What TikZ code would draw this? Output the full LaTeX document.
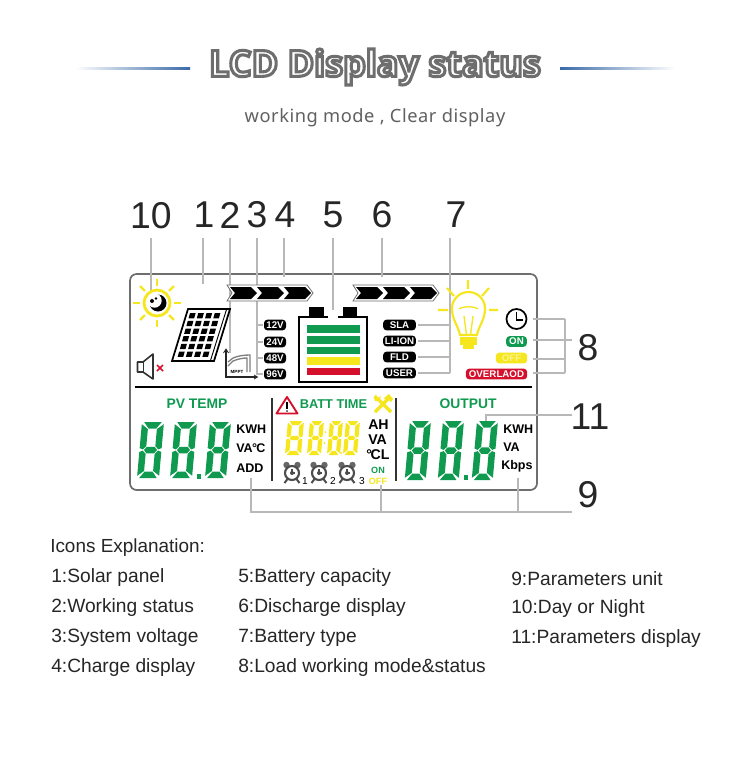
\documentclass[tikz,border=0pt]{standalone}
\usepackage{fontspec}
\setmainfont{Liberation Sans}
\newfontfamily\titlefont{Open Sans}
\newfontfamily\subfont{Noto Sans}[LetterSpace=3]
\usetikzlibrary{calc}
\definecolor{lcdgreen}{HTML}{109A50}
\definecolor{lcdyellow}{HTML}{F6E61E}
\definecolor{lcdred}{HTML}{D5102C}
\definecolor{leadgray}{HTML}{B8B8B8}
\definecolor{framegray}{HTML}{6E6E6E}
\definecolor{titleblue}{HTML}{3A6AA8}
\newcommand{\segdig}[6]{% x,y(top-left),w,h,t,colour
 \begin{scope}[shift={(#1,#2)},xslant=0.09,fill=#6,draw=none]
  \pgfmathsetmacro\dw{#3}\pgfmathsetmacro\dh{#4}\pgfmathsetmacro\dt{#5}
  \pgfmathsetmacro\dm{\dh/2}\pgfmathsetmacro\dg{.6}\pgfmathsetmacro\dc{\dt*.25+\dg}
  \fill (\dc,0)--(\dw-\dc,0)--(\dw-\dg-\dt,\dt)--(\dg+\dt,\dt)--cycle;
  \fill (\dc,\dh)--(\dw-\dc,\dh)--(\dw-\dg-\dt,\dh-\dt)--(\dg+\dt,\dh-\dt)--cycle;
  \fill (\dg+\dt*.6,\dm)--(\dg+\dt,\dm-\dt/2)--(\dw-\dg-\dt,\dm-\dt/2)--(\dw-\dg-\dt*.6,\dm)--(\dw-\dg-\dt,\dm+\dt/2)--(\dg+\dt,\dm+\dt/2)--cycle;
  % upper verticals
  \fill (0,\dc)--(\dt,\dt+\dg)--(\dt,\dm-\dt*.5-\dg)--(\dt*.5,\dm-\dg)--(0,\dm-\dt*.2-\dg)--cycle;
  \fill (\dw,\dc)--(\dw-\dt,\dt+\dg)--(\dw-\dt,\dm-\dt*.5-\dg)--(\dw-\dt*.5,\dm-\dg)--(\dw,\dm-\dt*.2-\dg)--cycle;
  % lower verticals
  \fill (0,\dh-\dc)--(\dt,\dh-\dt-\dg)--(\dt,\dm+\dt*.5+\dg)--(\dt*.5,\dm+\dg)--(0,\dm+\dt*.2+\dg)--cycle;
  \fill (\dw,\dh-\dc)--(\dw-\dt,\dh-\dt-\dg)--(\dw-\dt,\dm+\dt*.5+\dg)--(\dw-\dt*.5,\dm+\dg)--(\dw,\dm+\dt*.2+\dg)--cycle;
 \end{scope}}
\newcommand{\chevbar}[2]{% x, y-top
 \begin{scope}[shift={(#1,#2)}]
  \draw[framegray,fill=white,line width=.6pt] (0,0)--(80,0)--(86,8)--(80,16)--(0,16)--(5,8)--cycle;
  \foreach \a in {0,27,54}{
   \fill[black] (\a+3,2)--(\a+24,2)--(\a+30,8)--(\a+24,14)--(\a+3,14)--(\a+8,8)--cycle;}
 \end{scope}}
\newcommand{\alarmicon}[2]{%
 \begin{scope}[shift={(#1,#2)}]
  \fill[black!60] (-5.5,-8) circle (3.2); \fill[black!60] (5.5,-8) circle (3.2);
  \draw[black!70,fill=white,line width=1.6pt] (0,0) circle (7);
  \fill[black!70] (0,0) circle (2);
  \draw[black!70,line width=1.3pt] (0,-4)--(0,0)--(3,0);
  \draw[black!70,line width=1.5pt] (-4.5,6)--(-7.5,10) (4.5,6)--(7.5,10);
 \end{scope}}
\tikzset{
 leader/.style={leadgray,line width=.8pt},
 num/.style={font=\fontsize{28}{28}\selectfont,text=black!85,inner sep=0pt},
 bdg/.style={rounded corners=2.5pt,fill=black,text=white,font=\bfseries\fontsize{7.3}{7.5}\selectfont,inner sep=0pt,minimum height=8pt},
 unit/.style={font=\bfseries\fontsize{9.4}{10}\selectfont,inner sep=0pt,anchor=west,text=black},
 head/.style={font=\bfseries\fontsize{10.4}{11}\selectfont,inner sep=0pt,text=lcdgreen},
 expl/.style={font=\fontsize{14.4}{15}\selectfont,inner sep=0pt,anchor=west,text=black!85},
 titletext/.style={font=\titlefont\bfseries\fontsize{27}{27}\selectfont,inner sep=0pt},
}
\begin{document}
\begin{tikzpicture}[x=0.75pt,y=-0.75pt]
\useasboundingbox[fill=white] (0,0) rectangle (750,760);
% title: white text with grey outline
\node[titletext] (title) at (375,67) {\special{pdf:code q 2 Tr 2.3 w 0.43 0.43 0.43 RG 1 1 1 rg}LCD Display status\special{pdf:code Q}};
\shade[left color=white,right color=titleblue] (75,67) rectangle (190,69.5);
\shade[left color=titleblue,right color=white] (560,67) rectangle (675,69.5);
\node[font=\subfont\fontsize{13.7}{14}\selectfont,text=black!62,inner sep=0pt] (sub) at (375,118) {working mode , Clear display};
% LCD frame
\draw[framegray,line width=1.3pt,rounded corners=5pt] (130,274) rectangle (537,490);
\draw[black,line width=1.5pt] (135,387)--(532,387);
% number labels
\node[num] (n10) at (151,216) {10};
\node[num] (n1) at (204,215) {1};
\node[num] (n2) at (230,215) {2};
\node[num] (n3) at (257,215) {3};
\node[num] (n4) at (285,215) {4};
\node[num] (n5) at (333,215) {5};
\node[num] (n6) at (382,215) {6};
\node[num] (n7) at (456,215) {7};
\node[num] (n8) at (588,348) {8};
\node[num] (n9) at (588,495) {9};
\node[num] (n11) at (590,417) {11};
% leader ends
\foreach \n/\x/\ya/\yb in {l10/151/238/296,l1/203/238/284,l2/230/238/353,l3/257/238/375,l4/284/238/277,l5/333/238/310,l6/382/238/277,l7/450/238/373}{
 \coordinate (\n a) at (\x,\ya); \coordinate (\n b) at (\x,\yb);
 \draw[leader] (\n a)--(\n b);}
\foreach \y in {325,342,358,374}{\draw[leader] (257,\y)--(263,\y);}
\foreach \y in {325,341,357,373}{\draw[leader] (418,\y)--(450,\y);}
\foreach \y in {319,340,359,373}{\draw[leader] (533,\y)--(565,\y);}
\draw[leader] (565,319)--(565,373);
\draw[leader] (565,340)--(572,340);
\coordinate (l11) at (572,415); \coordinate (l11e) at (486,421);
\draw[leader] (l11)-|(l11e);
\coordinate (l9) at (572,512); \coordinate (l9a) at (251,478); \coordinate (l9b) at (381,485); \coordinate (l9c) at (518,478);
\draw[leader] (l9)-|(l9a);
\draw[leader] (l9b)--(381,512);
\draw[leader] (l9c)--(518,512);
% sun
\begin{scope}[shift={(157,303)}]
 \foreach \a in {0,45,...,315}{\draw[lcdyellow,line width=1.7pt] (\a:17)--(\a:24);}
 \draw[lcdyellow,line width=2.1pt,fill=white] (0,0) circle (13);
 \fill[black] (1,0) circle (8.5);
 \fill[white] (-2.5,-2.5) circle (7.2);
 \fill[black] (-5,-2) circle (2);
 \fill[black] (-1,-4.5) circle (1.4);
\end{scope}
% solar panel
\draw[black,line width=1.3pt,fill=white] (188,309)--(230,309)--(214,361)--(172,361)--cycle;
\draw[black,line width=.7pt] (226.5,309.5)--(210.5,360.5);
\foreach \r in {0,...,5}{\foreach \c in {0,...,3}{
 \pgfmathsetmacro\tf{(\r+.16)/6}\pgfmathsetmacro\bf{(\r+.84)/6}
 \pgfmathsetmacro\lf{(\c+.16)/4}\pgfmathsetmacro\rf{(\c+.84)/4}
 \fill[black] ({176+(1-\tf)*13+\lf*33},{312+\tf*46})--({176+(1-\tf)*13+\rf*33},{312+\tf*46})--({176+(1-\bf)*13+\rf*33},{312+\bf*46})--({176+(1-\bf)*13+\lf*33},{312+\bf*46})--cycle;
}}
% speaker
\draw[black!80,line width=1.2pt,line join=round] (137.5,362)--(143,362)--(153,354)--(153,379)--(143,372)--(137.5,372)--cycle;
\draw[black!80,line width=.7pt] (143,362)--(143,372);
\draw[lcdred,line width=1.3pt] (157,365)--(163,371) (163,365)--(157,371);
% MPPT graph
\draw[black!85,line width=1pt] (226,350)--(226,377)--(257,377);
\draw[black!85,line width=.6pt] (223.5,353)--(226,349)--(228.5,353) (254,375)--(257.5,377)--(254,379);
\draw[gray,line width=1pt] (228,362)--(233,358) .. controls (238,356) and (243,355) .. (250,355)--(250,372);
\draw[gray,line width=1pt] (228,366)--(233,361) .. controls (238,359) and (243,358) .. (247,358)--(247,372);
\node[font=\bfseries\fontsize{3.4}{3}\selectfont,inner sep=0pt] (mppt) at (237,372) {MPPT};
% voltage badges
\foreach \n/\y/\t in {v12/325/12V,v24/342/24V,v48/358/48V,v96/374/96V}{
 \node[bdg,minimum width=16.5pt] (\n) at (275,\y) {\t};}
% chevrons
\chevbar{227}{285}
\chevbar{353}{285}
% battery
\draw[black,line width=1.6pt] (328,317)--(299,317)--(299,382)--(367,382)--(367,317)--(338,317);
\fill[black] (309,306.5) rectangle (324,317);
\fill[black] (343,306.5) rectangle (357,317);
\fill[lcdgreen] (307,325) rectangle (360,333);
\fill[lcdgreen] (307,336) rectangle (360,343.5);
\fill[lcdgreen] (307,346.5) rectangle (360,354);
\fill[lcdyellow] (307,357) rectangle (360,365);
\fill[lcdred] (307,368) rectangle (360,375);
% type badges
\foreach \n/\y/\t in {tsla/325/SLA,tlion/341/LI-ION,tfld/357/FLD,tuser/373/USER}{
 \node[bdg,minimum width=24.5pt] (\n) at (399.5,\y) {\t};}
% bulb
\begin{scope}[lcdyellow,line width=1.6pt]
 \draw (468,280)--(468,289) (447,288)--(454,296) (489,288)--(482,296) (438,310)--(448,310) (489,310)--(498,310);
 \draw (460,335) .. controls (458,325) and (452,320) .. (452,308.5) arc (180:360:16.5) .. controls (485,320) and (479,325) .. (477,335) -- cycle;
 \draw[line width=1pt] (459,309) .. controls (463,306) and (474,306) .. (478,309);
 \draw[line width=1pt] (464,316)--(466.5,335) (473,316)--(470.5,335);
 \fill (460,337) rectangle (477,345);
 \fill (463,345) rectangle (474,349);
\end{scope}
% clock & load badges
\draw[black,line width=1.3pt,fill=white] (516.5,319) circle (10);
\draw[black,line width=1.2pt] (516.5,312)--(516.5,320)--(523,320);
\node[bdg,fill=lcdgreen,minimum width=15.5pt] (bon) at (516.5,341.5) {ON};
\node[bdg,fill=lcdyellow,text=lcdyellow!50,minimum width=23.5pt] (boff) at (511.5,358) {OFF};
\node[bdg,fill=lcdred,minimum width=46pt] (bover) at (496.5,374) {OVERLAOD};
% lower dividers
\draw[black!80,line width=1.3pt] (272,398)--(272,481);
\draw[black!80,line width=1.3pt] (396,398)--(396,481);
% headings
\node[head] (pv) at (197,404) {PV TEMP};
\node[head,font=\bfseries\fontsize{9.6}{10}\selectfont] (bt) at (333.5,404) {BATT TIME};
\node[head] (out) at (468,404) {OUTPUT};
% warning triangle
\draw[lcdred,line width=1.4pt,line join=round] (287,397)--(297.5,413.5)--(276.5,413.5)--cycle;
\draw[black,line width=1.3pt] (287,402)--(287,408.5);
\fill[black] (287,411) circle (.9);
% tools
\draw[lcdyellow,line width=2.4pt] (377,398)--(391,412) (389,398)--(375,412);
\fill[lcdyellow] (373.5,397) -- (376,394.5)--(378,398)--(381,396)--(379,401)--(375,401)--cycle;
\fill[lcdyellow] (384,398)--(389,394)--(393,399)--(391,402)--(388,399)--(386,401)--cycle;
% digits
\segdig{142}{422}{22}{56}{6.5}{lcdgreen}
\segdig{175}{422}{22}{56}{6.5}{lcdgreen}
\segdig{210}{422}{21}{56}{6.5}{lcdgreen}
\fill[lcdgreen] (196.5,474) rectangle (200.5,479);
\segdig{410}{421}{21}{59}{6.5}{lcdgreen}
\segdig{443}{421}{21}{59}{6.5}{lcdgreen}
\segdig{477}{421}{21}{59}{6.5}{lcdgreen}
\fill[lcdgreen] (463.5,475) rectangle (467.5,480);
\segdig{288}{421}{16}{34}{4.2}{lcdyellow}
\segdig{310}{421}{14}{34}{4.2}{lcdyellow}
\segdig{330}{421}{13}{34}{4.2}{lcdyellow}
\segdig{346}{421}{14}{34}{4.2}{lcdyellow}
\fill[lcdyellow] (325.5,432) circle (1) (324.5,443) circle (1) (341,453) circle (1.2);
% units
\node[unit] (u1) at (236,429) {KWH};
\node[unit] (u2) at (236,448) {VA\kern-.5pt\textdegree\kern-.5pt C};
\node[unit] (u3) at (236,468) {ADD};
\node[unit,font=\bfseries\fontsize{10.6}{11}\selectfont] (u4) at (368,425) {AH};
\node[unit,font=\bfseries\fontsize{10.6}{11}\selectfont] (u5) at (368,440) {VA};
\node[unit,font=\bfseries\fontsize{10.6}{11}\selectfont] (u6) at (366,455) {\textdegree\kern-1pt CL};
\node[unit] (u7) at (503,429) {KWH};
\node[unit] (u8) at (503,447) {VA};
\node[unit] (u9) at (501,466) {Kbps};
\node[font=\bfseries\fontsize{6.8}{7}\selectfont,text=lcdgreen,inner sep=0pt] (son) at (378,470) {ON};
\node[font=\bfseries\fontsize{6.8}{7}\selectfont,text=lcdyellow,inner sep=0pt] (soff) at (378,481) {OFF};
% alarm icons
\alarmicon{292}{473}\alarmicon{319}{473}\alarmicon{347}{473}
\node[font=\fontsize{7.6}{8}\selectfont,inner sep=0pt] (a1) at (305,481) {1};
\node[font=\fontsize{7.6}{8}\selectfont,inner sep=0pt] (a2) at (333,481) {2};
\node[font=\fontsize{7.6}{8}\selectfont,inner sep=0pt] (a3) at (362,481) {3};
% explanation
\node[expl,font=\fontsize{14.2}{15}\selectfont] (ex0) at (50,547.5) {Icons Explanation:};
\node[expl] (ex1) at (51,578) {1:Solar panel};
\node[expl] (ex2) at (51,608) {2:Working status};
\node[expl] (ex3) at (51,638) {3:System voltage};
\node[expl] (ex4) at (51,668) {4:Charge display};
\node[expl] (ex5) at (238,578) {5:Battery capacity};
\node[expl] (ex6) at (238,608) {6:Discharge display};
\node[expl] (ex7) at (238,638) {7:Battery type};
\node[expl] (ex8) at (238,668) {8:Load working mode\&status};
\node[expl] (ex9) at (511,579) {9:Parameters unit};
\node[expl] (ex10) at (511,609) {10:Day or Night};
\node[expl] (ex11) at (511,639) {11:Parameters display};
\end{tikzpicture}
\end{document}
